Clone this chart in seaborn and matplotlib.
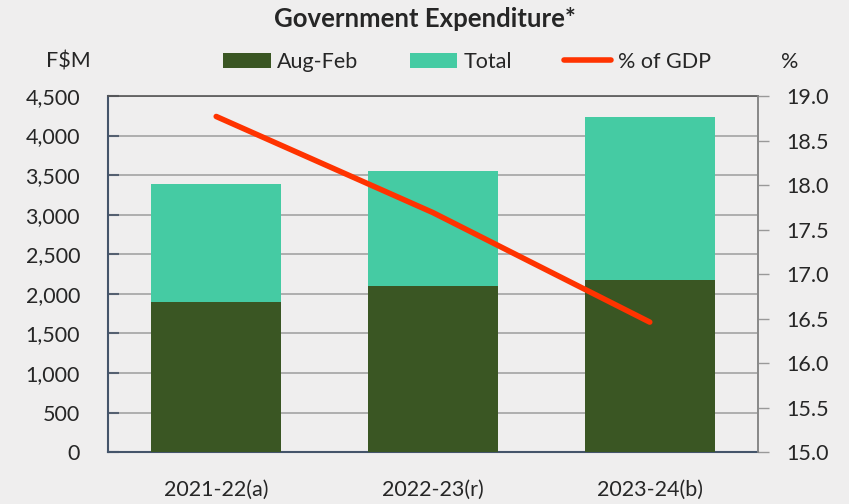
import seaborn as sns
import matplotlib.pyplot as plt
import pandas as pd
from matplotlib.patches import Patch
from matplotlib.lines import Line2D
from matplotlib.ticker import FuncFormatter, MultipleLocator

# values
years = ["2021-22(a)", "2022-23(r)", "2023-24(b)"]
aug_feb = [1893, 2102, 2175]
total = [3388, 3556, 4231]
pct_gdp = [18.77, 17.69, 16.46]

df = pd.DataFrame({"year": years, "aug_feb": aug_feb, "total": total, "pct": pct_gdp})

dark_green = "#3a5623"
teal = "#45cba3"
orange = "#ff3300"
bg = "#efeeee"

sns.set_style("white")
plt.rcParams["font.family"] = ["Lato", "DejaVu Sans"]

fig = plt.figure(figsize=(8.49, 5.04), dpi=100, facecolor=bg)
ax = fig.add_axes([0.127, 0.103, 0.766, 0.7065])
ax.set_facecolor(bg)

sns.barplot(data=df, x="year", y="total", color=teal, width=0.6, saturation=1,
            linewidth=0, ax=ax, zorder=2)
sns.barplot(data=df, x="year", y="aug_feb", color=dark_green, width=0.6, saturation=1,
            linewidth=0, ax=ax, zorder=3)

ax.set_ylim(0, 4500)
ax.set_xlim(-0.5, 2.5)
ax.yaxis.set_major_locator(MultipleLocator(500))
ax.yaxis.set_major_formatter(FuncFormatter(lambda v, p: f"{int(v):,}"))
ax.grid(axis="y", color="#a3a3a3", linewidth=1.2, zorder=0)
ax.set_axisbelow(True)
ax.set_xlabel("")
ax.set_ylabel("")
ax.tick_params(axis="y", direction="in", length=8, width=1.5, color="#556070",
               labelsize=15.5, pad=20)
ax.set_xticks([0, 1, 2])
ax.set_xticklabels(years)
ax.set_xticks([0.5, 1.5], minor=True)
ax.tick_params(axis="x", which="major", length=0, labelsize=15.5, pad=20)
ax.tick_params(axis="x", which="minor", direction="in", length=8, width=1.5, color="#556070")
for s in ["left", "bottom"]:
    ax.spines[s].set_color("#44546a")
    ax.spines[s].set_linewidth(1.5)
ax.spines["top"].set_color("#555555")
ax.spines["top"].set_linewidth(1.2)
ax.spines["right"].set_color("#888888")
ax.spines["right"].set_linewidth(1.2)

ax2 = ax.twinx()
sns.lineplot(data=df, x="year", y="pct", color=orange, linewidth=4, ax=ax2,
             solid_capstyle="round", zorder=5)
ax2.set_ylim(15, 19)
ax2.yaxis.set_major_locator(MultipleLocator(0.5))
ax2.yaxis.set_major_formatter(FuncFormatter(lambda v, p: f"{v:.1f}"))
ax2.set_ylabel("")
ax2.set_xlabel("")
ax2.tick_params(axis="y", direction="out", length=8, width=1, color="#999999",
                labelsize=15.5, pad=12)
for s in ["left", "bottom", "top"]:
    ax2.spines[s].set_visible(False)
ax2.spines["right"].set_color("#888888")
ax2.spines["right"].set_linewidth(1.2)

fig.text(0.5, 0.963, "Government Expenditure*", ha="center", va="center",
         fontsize=18.5, fontweight="bold")
fig.text(0.08, 0.877, "F$M", ha="center", va="center", fontsize=15.5)
fig.text(0.93, 0.877, "%", ha="center", va="center", fontsize=15.5)

handles = [Patch(facecolor=dark_green, edgecolor="none", label="Aug-Feb"),
           Patch(facecolor=teal, edgecolor="none", label="Total"),
           Line2D([0], [0], color=orange, linewidth=4, label="% of GDP")]
fig.legend(handles=handles, loc="center", bbox_to_anchor=(0.55, 0.877), ncol=3,
           frameon=False, fontsize=15.5, handlelength=2.2, handleheight=0.75,
           handletextpad=0.3, columnspacing=2.4)

fig.savefig("out.png", dpi=100, facecolor=bg)
